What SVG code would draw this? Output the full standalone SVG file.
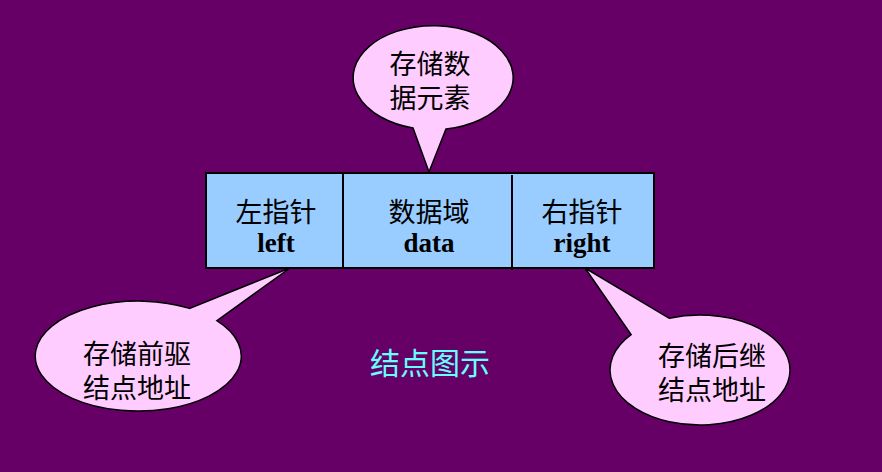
<svg xmlns="http://www.w3.org/2000/svg" width="882" height="472" viewBox="0 0 882 472">
<style>
.cb{fill:#FFCCFF;stroke:#000;stroke-width:1.5}
.t{font-family:"Liberation Sans","Noto Sans CJK SC",sans-serif;font-size:27px;fill:#000;text-anchor:middle}
.e{font-family:"Liberation Serif",serif;font-weight:bold;font-size:27px;fill:#000;text-anchor:middle}
</style>
<rect width="882" height="472" fill="#660066"/>
<g id="node">
<rect x="206" y="173" width="448" height="95" fill="#99CCFF" stroke="#000" stroke-width="2"/>
<line x1="343" y1="173" x2="343" y2="268" stroke="#000" stroke-width="2"/>
<line x1="512" y1="175" x2="512" y2="270" stroke="#000" stroke-width="2"/>
<text class="t" x="276" y="222">左指针</text>
<text class="e" x="276" y="252">left</text>
<text class="t" x="429" y="222">数据域</text>
<text class="e" x="429" y="252">data</text>
<text class="t" x="582" y="222">右指针</text>
<text class="e" x="582" y="252">right</text>
</g>
<g id="top">
<path class="cb" d="M413,128 A80,52 0 1 1 446,129 L429,172 Z"/>
<text class="t" x="430" y="74">存储数</text>
<text class="t" x="430" y="108">据元素</text>
</g>
<g id="left">
<path class="cb" d="M189.5,308.4 A103,55 0 1 0 216.9,320.6 L290,268 Z"/>
<text class="t" x="137" y="364">存储前驱</text>
<text class="t" x="137" y="398">结点地址</text>
</g>
<g id="right">
<path class="cb" d="M669.2,318.3 A90,55 0 1 1 631.1,334.6 L585,268 Z"/>
<text class="t" x="712" y="366">存储后继</text>
<text class="t" x="712" y="400">结点地址</text>
</g>
<text x="430" y="374" font-family="Liberation Sans,Noto Sans CJK SC,sans-serif" font-size="30" fill="#66FFFF" text-anchor="middle">结点图示</text>
</svg>
